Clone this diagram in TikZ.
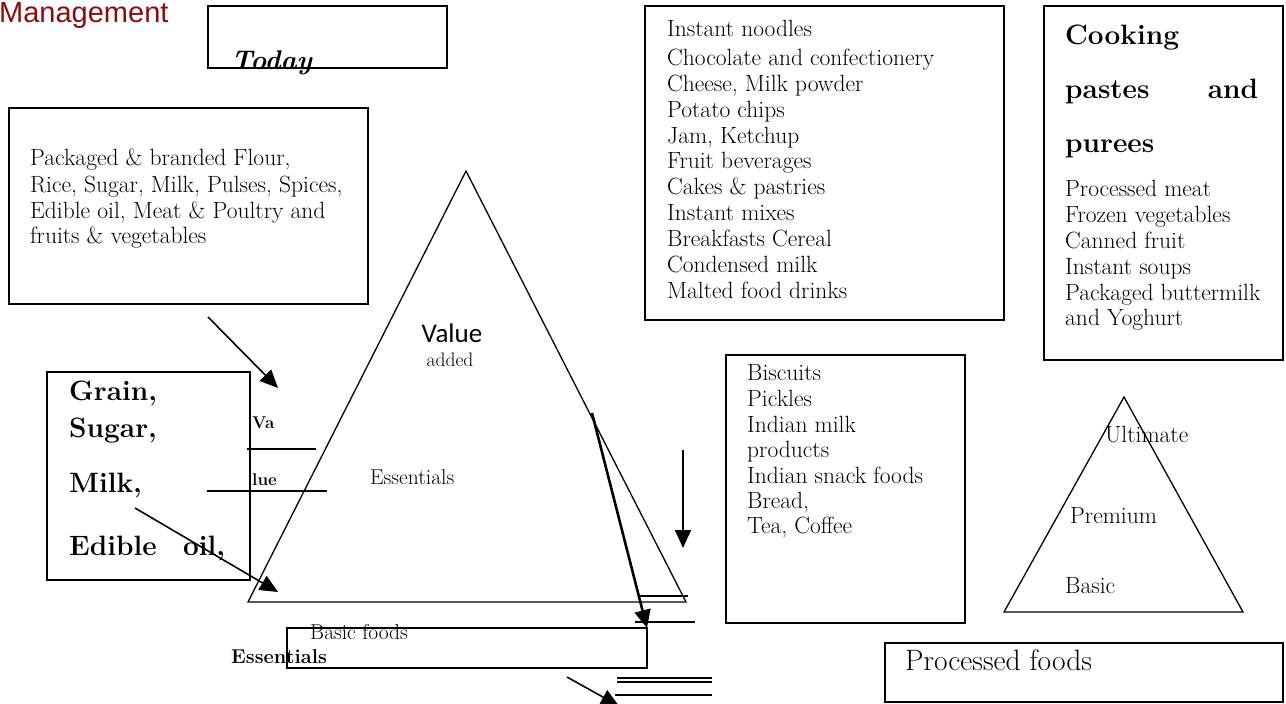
\documentclass[tikz,border=0pt]{standalone}
\usepackage{fontspec}
\usepackage{tikz}
\usetikzlibrary{calc,arrows.meta}
\newfontfamily\arialfont{Liberation Sans}
\newfontfamily\calfont{Carlito}
\definecolor{mgmtred}{RGB}{140,12,12}
\newcommand{\bodyfont}{\fontsize{23.5}{26}\selectfont}
\newcommand{\headfont}{\fontsize{28}{30}\selectfont\bfseries}

\begin{document}
\begin{tikzpicture}[x=1pt,y=-1pt,
    box/.style={line width=1.6pt},
    tri/.style={line width=1.3pt},
    txt/.style={anchor=base west,inner sep=0pt,font=\bodyfont},
    arr/.style={line width=1.6pt,-{Triangle[length=18pt,width=16pt]}}]
    \useasboundingbox (0,0) rectangle (1286,704);
    % boxes
    \draw[box] (208,6) rectangle (447,68);
    \draw[box] (9,108) rectangle (368,304);
    \draw[box] (47,372) rectangle (250,580);
    \draw[box] (645,6) rectangle (1004,320);
    \draw[box] (1044,6) rectangle (1283,360);
    \draw[box] (726,355) rectangle (965,623);
    \draw[box] (287,628) rectangle (647,668);
    \draw[box] (885,643) rectangle (1283,702);
    % triangles
    \coordinate (A) at (248,602); \coordinate (B) at (686,602); \coordinate (C) at (466,171);
    \coordinate (D) at (1004,612); \coordinate (E) at (1243,612); \coordinate (F) at (1124,397);
    \draw[tri] (A) -- (B) -- (C) -- cycle;
    \draw[tri] (D) -- (E) -- (F) -- cycle;
    % loose lines
    \draw[line width=1.3pt] (247,449) -- (316,449);
    \draw[line width=2pt] (207,491) -- (327,491);
    \draw[line width=1.3pt] (640,596) -- (688,596);
    \draw[line width=1.3pt] (635,622) -- (695,622);
    \draw[line width=1.3pt] (617,678) -- (712,678);
    \draw[line width=1.3pt] (617,682) -- (712,682);
    \draw[line width=1.3pt] (615,695) -- (712,695);
    % arrows
    \coordinate (a1) at (208,317); \coordinate (a2) at (278,388);
    \coordinate (b1) at (135,508); \coordinate (b2) at (278,592);
    \coordinate (c1) at (592,413); \coordinate (c2) at (647,628);
    \coordinate (d1) at (683,450); \coordinate (d2) at (683,548);
    \coordinate (e1) at (567,677); \coordinate (e2) at (619,706);
    \draw[arr] (a1) -- (a2);
    \draw[arr] (b1) -- (b2);
    \draw[arr,line width=2.6pt] (c1) -- (c2);
    \draw[arr] (d1) -- (d2);
    \draw[arr] (e1) -- (e2);
    % texts
    \node[anchor=base west,inner sep=0pt,text=mgmtred,font=\arialfont\fontsize{29}{30}\selectfont] (mgmt) at (-1,23) {Management};
    \node[txt,font=\fontsize{27}{30}\selectfont\bfseries\itshape] (today) at (231,69) {Today};
    \foreach \y/\t [count=\i] in {165/{Packaged \& branded Flour,}, 192/{Rice, Sugar, Milk, Pulses, Spices,},
        218/{Edible oil, Meat \& Poultry and}, 243/{fruits \& vegetables}}
        \node[txt] (pk\i) at (30,\y) {\t};
    \foreach \y/\t [count=\i] in {400/Grain{,}, 437/Sugar{,}, 492/Milk{,}}
        \node[txt,font=\headfont] (gr\i) at (69,\y) {\t};
    \node[txt,font=\headfont] (gr4) at (69,555) {\hbox to 156pt{Edible\hfill oil,}};
    \node[txt,font=\fontsize{17}{20}\selectfont\bfseries] (va) at (252,428) {Va};
    \node[txt,font=\fontsize{17}{20}\selectfont\bfseries] (lue) at (252,485) {lue};
    \node[inner sep=0pt,font=\calfont\fontsize{27}{28}\selectfont] (value) at (452,333) {Value};
    \node[inner sep=0pt,font=\fontsize{19.5}{22}\selectfont] (added) at (450,360) {added};
    \node[txt,font=\fontsize{21.5}{22}\selectfont] (ess) at (370,484) {Essentials};
    \node[txt,font=\fontsize{21.5}{22}\selectfont] (basicf) at (310,639) {Basic foods};
    \node[txt,font=\fontsize{20}{22}\selectfont\bfseries] (essb) at (231,663) {Essentials};
    \foreach \y/\t [count=\i] in {36/Instant noodles, 65/Chocolate and confectionery, 91/{Cheese, Milk powder},
        117/Potato chips, 143/{Jam, Ketchup}, 168/Fruit beverages, 194/Cakes \& pastries, 220/Instant mixes,
        246/Breakfasts Cereal, 272/Condensed milk, 298/Malted food drinks}
        \node[txt] (pf\i) at (667,\y) {\t};
    \node[txt,font=\headfont] (ck1) at (1065,45) {Cooking};
    \node[txt,font=\headfont] (ck2) at (1065,98) {\hbox to 193pt{pastes\hfill and}};
    \node[txt,font=\headfont] (ck3) at (1065,152) {purees};
    \foreach \y/\t [count=\i] in {196/Processed meat, 222/Frozen vegetables, 248/Canned fruit,
        274/Instant soups, 300/Packaged buttermilk, 325/and Yoghurt}
        \node[txt] (cp\i) at (1065,\y) {\t};
    \foreach \y/\t [count=\i] in {380/Biscuits, 406/Pickles, 432/Indian milk, 457/products,
        483/Indian snack foods, 508/{Bread,}, 533/{Tea, Coffee}}
        \node[txt] (bs\i) at (747,\y) {\t};
    \node[txt,font=\fontsize{23.5}{24}\selectfont] (ult) at (1105,442) {Ultimate};
    \node[txt,font=\fontsize{23.5}{24}\selectfont] (prem) at (1070,523) {Premium};
    \node[txt,font=\fontsize{23.5}{24}\selectfont] (basic) at (1065,593) {Basic};
    \node[txt,font=\fontsize{29.5}{30}\selectfont] (proc) at (905,670) {Processed foods};
\end{tikzpicture}
\end{document}
